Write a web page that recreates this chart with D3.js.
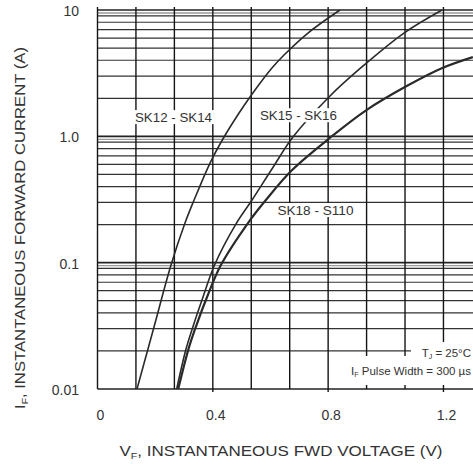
<!DOCTYPE html>
<html>
<head>
<meta charset="utf-8">
<script src="https://cdnjs.cloudflare.com/ajax/libs/d3/7.8.5/d3.min.js"></script>
<style>
  body { margin: 0; background: #fff; }
  svg { display: block; font-family: "Liberation Sans", Arial, sans-serif; }
</style>
</head>
<body>
<svg id="chart" width="473" height="464"></svg>
<script>
// forward voltage (V) / forward current (A)
var sk12V = [0.137, 0.196, 0.255, 0.3035, 0.335, 0.392, 0.439, 0.491, 0.529, 0.605, 0.647, 0.73, 0.841];
var sk12I = [0.01, 0.031, 0.096, 0.206, 0.313, 0.626, 0.988, 1.53, 2.05, 3.47, 4.4, 6.57, 10];

var sk15V = [0.2747, 0.307, 0.333, 0.366, 0.406, 0.48, 0.536, 0.605, 0.678, 0.803, 0.917, 1.063, 1.195];
var sk15I = [0.01, 0.0207, 0.0321, 0.0535, 0.0958, 0.202, 0.313, 0.551, 0.988, 2.05, 3.54, 6.57, 10];

var sk18V = [0.28, 0.3156, 0.3434, 0.38, 0.428, 0.522, 0.584, 0.675, 0.81, 0.934, 1.0725, 1.194, 1.302];
var sk18I = [0.01, 0.0207, 0.0321, 0.0535, 0.0958, 0.206, 0.313, 0.541, 0.988, 1.62, 2.5, 3.46, 4.24];

var seriesNames = ["SK12 - SK14", "SK15 - SK16", "SK18 - S110"];

var xTickValues = [0, 0.4, 0.8, 1.2];
var xTickLabels = ["0", "0.4", "0.8", "1.2"];
var yTickValues = [10, 1, 0.1, 0.01];
var yTickLabels = ["10", "1.0", "0.1", "0.01"];

(function () {
  var svg = d3.select('#chart');

  // plot box (right side is cut off in the scan)
  var pl = 97.5, pr = 473, pt = 10, pb = 389;

  var x = d3.scaleLinear().domain([0, (pr - pl) / 288.3]).range([pl, pr]);
  var y = d3.scaleLog().domain([0.01, 10]).range([pb, pt]);

  var ink = "#151515";
  var isDecade = d => Math.abs(Math.log10(d) - Math.round(Math.log10(d))) < 1e-6;

  svg.append("defs").append("clipPath").attr("id", "plotClip")
    .append("rect").attr("x", pl).attr("y", pt - 2).attr("width", pr - pl).attr("height", pb - pt + 2);

  // horizontal log grid, decade lines heavier
  var hGrid = [];
  [0.01, 0.1, 1].forEach(d => {
    d3.range(1, 10).forEach(m => hGrid.push(d * m));
  });
  hGrid.push(10);

  var grid = svg.append("g");

  // grey ghost line under the decade lines (scan look)
  grid.selectAll(".hg2").data([10, 1, 0.1]).enter().append("line")
    .attr("x1", pl).attr("x2", pr)
    .attr("y1", d => y(d) + 3).attr("y2", d => y(d) + 3)
    .attr("stroke", "#999").attr("stroke-width", 1.4);

  grid.selectAll(".hg").data(hGrid).enter().append("line")
    .attr("x1", pl).attr("x2", pr)
    .attr("y1", d => y(d)).attr("y2", d => y(d))
    .attr("stroke", d => isDecade(d) ? "#222" : "#333")
    .attr("stroke-width", d => isDecade(d) ? 1.7 : 1.2);

  // vertical grid every 0.4/3 V
  var vGrid = d3.range(0, 1.3, 0.4 / 3);
  grid.selectAll(".vg").data(vGrid).enter().append("line")
    .attr("x1", d => x(d)).attr("x2", d => x(d))
    .attr("y1", pt - 3).attr("y2", pb)
    .attr("stroke", ink).attr("stroke-width", 1.4);

  // small ticks below axis at labelled values
  grid.selectAll(".xt").data(xTickValues.slice(1)).enter().append("line")
    .attr("x1", d => x(d)).attr("x2", d => x(d))
    .attr("y1", pb).attr("y2", pb + 3)
    .attr("stroke", ink).attr("stroke-width", 1.4);

  // curves
  var series = [
    { v: sk12V, i: sk12I, w: 1.6 },
    { v: sk15V, i: sk15I, w: 1.6 },
    { v: sk18V, i: sk18I, w: 2.2 }
  ];

  var line = d3.line()
    .x(d => x(d[0]))
    .y(d => y(d[1]))
    .curve(d3.curveCatmullRom.alpha(0.5));

  svg.append("g").attr("clip-path", "url(#plotClip)")
    .selectAll("path").data(series).enter().append("path")
    .attr("d", s => line(s.v.map((v, k) => [v, s.i[k]])))
    .attr("fill", "none")
    .attr("stroke", "#2a2a2a")
    .attr("stroke-width", s => s.w);

  // series labels with white boxes
  var labelPos = [[0.2636, 1.42, 77], [0.697, 1.47, 77], [0.756, 0.261, 76]];
  var labels = svg.append("g");
  labelPos.forEach((p, k) => {
    var cx = x(p[0]), cy = y(p[1]);
    labels.append("rect")
      .attr("x", cx - p[2] / 2 - 3).attr("y", cy - 7)
      .attr("width", p[2] + 6).attr("height", 14)
      .attr("fill", "#fff");
    labels.append("text")
      .attr("x", cx).attr("y", cy + 4.5)
      .attr("text-anchor", "middle")
      .attr("font-size", 12)
      .attr("textLength", p[2]).attr("lengthAdjust", "spacingAndGlyphs")
      .attr("fill", "#333")
      .text(seriesNames[k]);
  });

  // test conditions note
  var note = svg.append("g");
  note.append("rect").attr("x", 411).attr("y", 342).attr("width", 62).attr("height", 15).attr("fill", "#fff");
  note.append("rect").attr("x", 329).attr("y", 356).attr("width", 144).attr("height", 29).attr("fill", "#fff");

  var t1 = note.append("text").attr("x", 471).attr("y", 357)
    .attr("text-anchor", "end").attr("font-size", 11.5).attr("fill", "#333");
  t1.append("tspan").text("T");
  t1.append("tspan").attr("font-size", 7).attr("dy", 2).text("J");
  t1.append("tspan").attr("dy", -2).text(" = 25°C");

  var t2 = note.append("text").attr("x", 471).attr("y", 375)
    .attr("text-anchor", "end").attr("font-size", 11.5).attr("fill", "#333");
  t2.append("tspan").text("I");
  t2.append("tspan").attr("font-size", 7).attr("dy", 2).text("F");
  t2.append("tspan").attr("dy", -2).text(" Pulse Width = 300 µs");

  // tick labels
  svg.append("g").selectAll("text").data(yTickValues).enter().append("text")
    .attr("x", 79).attr("y", d => y(d) + 6)
    .attr("text-anchor", "end").attr("font-size", 14).attr("fill", "#333")
    .text((d, k) => yTickLabels[k]);

  svg.append("g").selectAll("text").data(xTickValues).enter().append("text")
    .attr("x", d => x(d) + 3).attr("y", 420)
    .attr("text-anchor", "middle").attr("font-size", 14).attr("fill", "#333")
    .text((d, k) => xTickLabels[k]);

  // axis titles
  var xt = svg.append("text").attr("x", 281).attr("y", 456)
    .attr("text-anchor", "middle").attr("font-size", 14.5).attr("fill", "#333")
    .attr("textLength", 323).attr("lengthAdjust", "spacingAndGlyphs");
  xt.append("tspan").text("V");
  xt.append("tspan").attr("font-size", 9).attr("dy", 3).text("F");
  xt.append("tspan").attr("dy", -3).text(", INSTANTANEOUS FWD VOLTAGE (V)");

  var yt = svg.append("text").attr("transform", "translate(25,228) rotate(-90)")
    .attr("text-anchor", "middle").attr("font-size", 14.5).attr("fill", "#333")
    .attr("textLength", 362).attr("lengthAdjust", "spacingAndGlyphs");
  yt.append("tspan").text("I");
  yt.append("tspan").attr("font-size", 9).attr("dy", 3).text("F");
  yt.append("tspan").attr("dy", -3).text(", INSTANTANEOUS FORWARD CURRENT (A)");
})();
</script>
</body>
</html>
